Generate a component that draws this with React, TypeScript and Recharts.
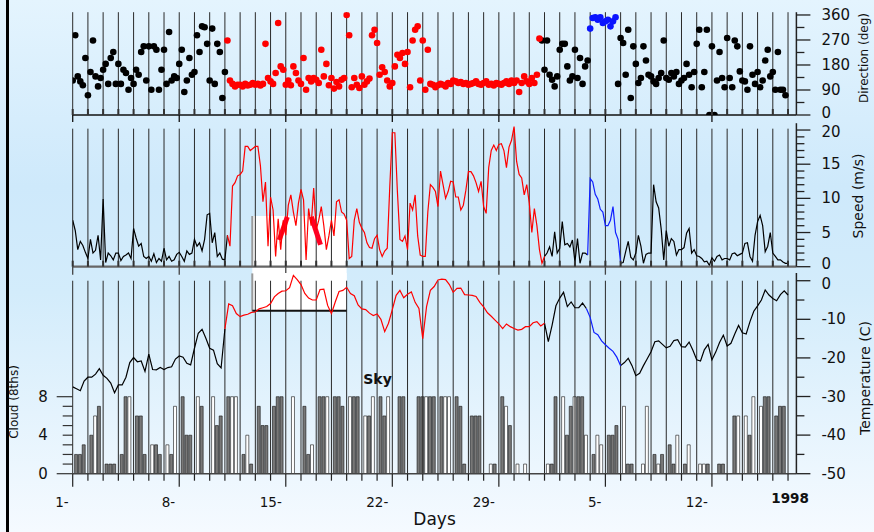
import React from 'react';
import {
  ScatterChart,
  Scatter,
  LineChart,
  Line,
  ComposedChart,
  Bar,
  Cell,
  XAxis,
  YAxis,
  ReferenceLine,
  ReferenceArea,
  ReferenceDot,
} from 'recharts';

// day index: 0 = 1 Jan 1998
const dayTicks = [0, 7, 14, 21, 28, 35, 42];
const dayTickLabels = ['1-', '8-', '15-', '22-', '29-', '5-', '12-'];
const yearTick = 47;
const yearLabel = '1998';
const lastDay = 47;

const dirTicks = [0, 45, 90, 135, 180, 225, 270, 315, 360];
const speedTicks = [0, 1, 2, 3, 4, 5, 6, 7, 8, 9, 10, 11, 12, 13, 14, 15, 16, 17, 18, 19, 20];
const tempTicks = [-50, -45, -40, -35, -30, -25, -20, -15, -10, -5, 0];
const cloudTicks = [0, 1, 2, 3, 4, 5, 6, 7, 8];

// periods (in days) coming from the other two stations, drawn red / blue
const dirSpans = { red: [10.15, 30.8], blue: [34, 35.7] };
const speedSpans = { red: [10.3, 30.85], blue: [34, 35.85] };
const tempSpans = { red: [10.25, 30.75], blue: [34, 35.75] };

// wind direction, deg, 6 per day
const direction = [
  124, 287, 139, 121, 107, 205, 71, 155, 268, 139, 103, 133,
  163, 184, 112, 205, 227, 112, 184, 112, 163, 151, 91, 133,
  112, 163, 145, 227, 247, 124, 247, 91, 247, 235, 91, 163,
  235, 112, 299, 124, 139, 133, 184, 235, 83, 124, 205, 145,
  155, 287, 227, 319, 316, 256, 124, 311, 112, 256, 227, 61,
  155, 268, 124, 112, 103, 109, 109, 103, 112, 106, 109, 115,
  109, 112, 106, 112, 256, 133, 121, 112, 151, 331, 175, 163,
  109, 124, 107, 175, 151, 124, 112, 205, 91, 133, 121, 133,
  127, 115, 235, 139, 184, 107, 133, 95, 119, 103, 127, 133,
  360, 287, 100, 133, 109, 97, 139, 109, 121, 131, 287, 307,
  259, 145, 172, 155, 124, 103, 115, 175, 217, 205, 223, 184,
  227, 100, 268, 307, 319, 124, 268, 91, 235, 112, 109, 100,
  107, 112, 109, 103, 115, 112, 124, 121, 115, 119, 112, 115,
  109, 112, 115, 121, 112, 109, 115, 121, 109, 112, 106, 115,
  112, 109, 115, 121, 112, 124, 115, 124, 83, 115, 139, 121,
  112, 133, 115, 145, 275, 268, 163, 268, 145, 127, 103, 139,
  235, 256, 256, 175, 124, 139, 235, 133, 205, 112, 175, 196,
  311, 349, 352, 343, 352, 331, 337, 343, 319, 337, 352, 112,
  277, 259, 145, 307, 61, 247, 184, 115, 133, 247, 196, 145,
  139, 121, 112, 133, 151, 268, 133, 127, 151, 139, 155, 112,
  124, 133, 184, 145, 100, 155, 256, 307, 100, 155, 307, 0,
  247, 0, 124, 227, 133, 100, 277, 133, 100, 268, 247, 157,
  124, 121, 91, 247, 145, 112, 155, 100, 124, 196, 235, 139,
  155, 91, 227, 91, 91, 71,
];

// wind speed, m/s, 6 per day
const speed = [
  6.8, 5.3, 2.5, 3.7, 3.1, 2.1, 1.2, 4.0, 2.0, 2.4, 4.6, 1.0,
  9.9, 0.6, 2.0, 1.6, 1.0, 2.0, 2.0, 0.9, 1.5, 1.7, 2.0, 1.2,
  5.6, 4.2, 3.0, 3.4, 1.5, 1.2, 1.5, 0.8, 1.9, 0.6, 1.2, 0.8,
  2.7, 1.0, 1.5, 0.8, 1.0, 1.8, 2.1, 1.5, 0.8, 2.3, 1.8, 2.0,
  4.0, 3.0, 3.5, 2.3, 4.0, 7.6, 7.8, 3.5, 5.0, 1.5, 2.0, 1.1,
  1.0, 4.6, 3.0, 11.8, 12.3, 13.3, 13.5, 14.0, 17.6, 17.6, 17.0, 17.3,
  17.6, 17.6, 14.8, 9.5, 12.4, 3.0, 10.2, 8.3, 1.5, 7.0, 2.5, 6.8,
  4.6, 9.0, 10.5, 8.0, 6.0, 9.3, 11.3, 9.8, 1.0, 8.5, 6.0, 11.5,
  5.4, 6.8, 8.8, 6.0, 2.5, 4.5, 6.8, 4.5, 9.5, 9.8, 8.0, 7.7,
  6.8, 1.2, 1.5, 6.8, 8.5, 6.5, 5.6, 5.0, 3.5, 2.8, 2.7, 4.1,
  4.6, 2.5, 1.5, 2.3, 2.7, 11.7, 19.6, 19.6, 11.0, 4.0, 3.7, 4.5,
  2.5, 9.3, 8.3, 10.5, 4.5, 1.7, 1.5, 1.5, 8.0, 12.0, 11.6, 11.0,
  8.8, 14.0, 12.0, 10.0, 11.0, 12.5, 12.4, 10.2, 10.2, 8.3, 9.0, 11.2,
  13.9, 13.9, 13.3, 12.3, 11.0, 12.5, 8.8, 7.8, 14.5, 17.0, 17.8, 17.0,
  17.9, 18.0, 17.0, 14.5, 17.5, 18.5, 20.5, 15.4, 13.5, 13.0, 10.5, 12.0,
  9.3, 5.0, 8.5, 6.0, 2.5, 0.5, 1.5, 2.0, 2.9, 1.5, 5.1, 2.0,
  2.7, 6.6, 3.2, 3.4, 2.9, 3.9, 0.7, 4.1, 0.5, 2.0, 2.0, 1.7,
  12.9, 12.4, 10.6, 9.9, 8.4, 8.0, 6.0, 6.0, 6.8, 8.8, 5.0, 4.0,
  0.5, 0.6, 2.2, 3.7, 1.4, 1.0, 2.0, 4.6, 3.0, 0.5, 1.8, 2.0,
  2.0, 12.0, 9.5, 8.6, 5.5, 1.0, 5.3, 3.0, 4.1, 3.7, 1.7, 2.5,
  2.5, 2.8, 4.9, 5.6, 2.0, 2.5, 1.6, 1.5, 1.2, 0.7, 0.8, 0.2,
  1.3, 0.8, 1.5, 1.7, 1.0, 1.2, 1.2, 1.0, 1.9, 2.0, 1.6, 1.8,
  2.0, 3.4, 3.5, 1.5, 0.8, 4.6, 6.6, 7.5, 6.0, 2.2, 3.0, 5.0,
  2.0, 1.5, 1.0, 1.0, 0.7, 0.5, 0.5,
];

// air temperature, C, 4 per day
const temperature = [
  -27.5, -28.0, -28.5, -26.0, -25.0, -25.0, -24.2, -22.8, -24.5, -25.3, -26.5, -29.0,
  -27.0, -27.0, -25.0, -21.2, -19.9, -21.0, -20.8, -23.5, -19.0, -23.0, -23.1, -22.5,
  -23.0, -22.5, -22.3, -20.3, -19.5, -19.8, -21.4, -21.8, -17.5, -13.6, -12.6, -14.9,
  -17.5, -18.0, -21.5, -22.6, -12.5, -6.0, -6.5, -8.5, -9.3, -8.9, -8.7, -8.2,
  -8.1, -7.3, -7.0, -6.7, -5.9, -4.2, -3.3, -2.7, -2.6, -1.8, 1.4, 0.3,
  -1.0, -3.3, -4.5, -5.0, -5.0, -2.3, -2.2, -6.4, -8.5, -5.5, -2.8, -2.5,
  -1.7, -3.3, -3.9, -6.3, -7.3, -7.5, -8.4, -9.0, -8.6, -10.0, -13.2, -11.0,
  -7.5, -3.8, -2.5, -4.4, -3.5, -2.9, -5.6, -7.2, -15.0, -6.7, -2.5, -1.5,
  0.2, 0.4, 0.3, -1.0, -3.0, -2.0, -1.9, -3.6, -3.7, -3.8, -4.1, -5.6,
  -6.8, -8.3, -9.2, -10.2, -11.2, -12.4, -11.2, -11.9, -12.4, -12.8, -12.6, -11.9,
  -11.9, -10.9, -10.6, -11.7, -11.0, -15.8, -11.5, -6.5, -4.5, -3.0, -6.7, -5.5,
  -7.0, -7.0, -5.8, -7.2, -9.5, -13.4, -14.0, -15.6, -16.6, -17.5, -18.3, -19.8,
  -22.0, -21.2, -20.1, -22.0, -24.6, -24.0, -22.0, -20.2, -18.4, -15.8, -15.6, -16.5,
  -17.4, -17.0, -15.5, -15.3, -17.1, -17.2, -15.9, -18.0, -20.5, -20.8, -17.9, -16.5,
  -20.5, -18.5, -16.0, -14.1, -16.9, -16.2, -13.8, -11.6, -13.5, -13.8, -10.6, -7.9,
  -6.5, -5.0, -2.4, -3.7, -4.6, -5.2, -3.6, -2.6, -3.7,
];

// sky cover, eighths, 4 per day
const cloud = [
  0, 2, 2, 3, 0, 4, 6, 7, 0, 1, 1, 1, 0, 2, 8, 8, 0, 6, 6, 2, 0, 3, 3, 2,
  0, 3, 2, 7, 0, 8, 4, 4, 0, 8, 7, 0, 0, 8, 5, 6, 0, 8, 8, 8, 0, 2, 4, 1,
  0, 7, 5, 5, 0, 7, 8, 8, 0, 0, 8, 0, 0, 7, 2, 3, 0, 8, 8, 8, 0, 8, 8, 7,
  0, 8, 8, 8, 0, 6, 6, 8, 0, 8, 6, 8, 0, 0, 8, 8, 0, 0, 0, 8, 8, 8, 8, 8,
  0, 8, 8, 8, 0, 8, 7, 1, 0, 6, 6, 6, 0, 0, 1, 1, 0, 8, 7, 5, 0, 1, 0, 1,
  0, 0, 0, 0, 0, 1, 1, 8, 0, 8, 4, 7, 8, 8, 8, 4, 0, 2, 4, 3, 0, 4, 4, 5,
  0, 7, 1, 1, 0, 0, 1, 7, 0, 2, 1, 2, 0, 3, 1, 4, 0, 1, 3, 0, 0, 1, 1, 1,
  0, 0, 1, 1, 0, 0, 6, 6, 0, 6, 4, 8, 0, 7, 8, 8, 0, 6, 7, 7, 0,
];

// sky readings that were estimated (open bars)
const openCloud = [
  6, 15, 21, 25, 27, 33, 37, 42, 43, 46, 58, 63, 67, 73, 77, 79, 83, 93, 98, 99,
  110, 114, 117, 119, 125, 129, 132, 135, 138, 139, 145, 150, 151, 154, 159, 162,
  165, 166, 175, 177, 179, 181,
];

const FONT = "'DejaVu Sans', Verdana, sans-serif";
const allDays = Array.from({ length: lastDay + 1 }, (_, i) => i);
const xDomain = [0, 47.55];

const inside = (t: number, s: number[]) => t >= s[0] - 1e-6 && t <= s[1] + 1e-6;

function splitRows(values: number[], perDay: number, spans: { red: number[]; blue: number[] }) {
  const step = 1 / perDay;
  const near = (t: number, s: number[]) => inside(t, s) || inside(t - step, s) || inside(t + step, s);
  return values.map((v, i) => {
    const t = i * step;
    return {
      t,
      black: inside(t, spans.red) || inside(t, spans.blue) ? null : v,
      red: near(t, spans.red) ? v : null,
      blue: near(t, spans.blue) ? v : null,
    };
  });
}

const dirPoints = direction.map((v, i) => ({ t: i / 6, dir: v }));
const dirBlack = dirPoints.filter((p) => !inside(p.t, dirSpans.red) && !inside(p.t, dirSpans.blue));
const dirRed = dirPoints.filter((p) => inside(p.t, dirSpans.red));
const dirBlue = dirPoints.filter((p) => inside(p.t, dirSpans.blue));

const speedRows = splitRows(speed, 6, speedSpans);
const openSet = new Set(openCloud);
const tempRows = splitRows(temperature, 4, tempSpans).map((r, i) => ({ ...r, cloud: cloud[i] }));

const dot = (color: string) => (p: any) => <circle cx={p.cx} cy={p.cy} r={3.3} fill={color} />;

// lowest / highest labels are nudged apart where two panels meet
const rightTick = (every: number, lowNudge: number, highNudge: number, low: number, high: number) => (p: any) => {
  const { x, y, payload } = p;
  const v = payload.value;
  const major = v % every === 0;
  const dy = v === low ? lowNudge : v === high ? highNudge : 0;
  return (
    <g>
      <line x1={x} x2={x + (major ? 14 : 8)} y1={y} y2={y} stroke="#222" strokeWidth={1.3} />
      {major && (
        <text x={x + 25} y={y + dy} dominantBaseline="central" fontSize={15} fontFamily={FONT} fill="#111">
          {v}
        </text>
      )}
    </g>
  );
};

const leftTick = (p: any) => {
  const { x, y, payload } = p;
  const v = payload.value;
  const long = v === 0 || v === 8;
  return (
    <g>
      <line x1={x - (long ? 16 : 10)} x2={x} y1={y} y2={y} stroke="#333" strokeWidth={1.2} />
      {v % 4 === 0 && (
        <text x={x - 25} y={y} dominantBaseline="central" textAnchor="end" fontSize={15} fontFamily={FONT} fill="#111">
          {v}
        </text>
      )}
    </g>
  );
};

const stubTick = (down: number, color: string) => (p: any) => {
  const { x, y, payload } = p;
  const major = payload.value % 7 === 0;
  return (
    <g>
      <line x1={x} x2={x} y1={y - 6} y2={y} stroke="#333" strokeWidth={2} />
      {major && <line x1={x} x2={x} y1={y} y2={y + down} stroke={color} strokeWidth={1.3} />}
    </g>
  );
};

const bottomTick = (p: any) => {
  const { x, y, payload } = p;
  const v = payload.value;
  const k = dayTicks.indexOf(v);
  return (
    <g>
      <line x1={x} x2={x} y1={y} y2={y + (k >= 0 ? 13 : 7)} stroke="#222" strokeWidth={1.2} />
      {k >= 0 && (
        <text x={x - 4} y={y + 33} textAnchor="end" fontSize={13.5} fontFamily={FONT} fill="#111">
          {dayTickLabels[k]}
        </text>
      )}
      {v === yearTick && (
        <text x={x + 2} y={y + 29} textAnchor="middle" fontSize={13.5} fontWeight="bold" fontFamily={FONT} fill="#111">
          {yearLabel}
        </text>
      )}
    </g>
  );
};

const xCommon = {
  dataKey: 't',
  type: 'number' as const,
  domain: xDomain,
  ticks: allDays,
  interval: 0,
  allowDataOverflow: true,
  tickLine: false,
  tickSize: 0,
  tickMargin: 0,
};

const yRight = {
  orientation: 'right' as const,
  width: 77.6,
  interval: 0,
  tickLine: false,
  tickSize: 0,
  tickMargin: 0,
  allowDataOverflow: true,
  axisLine: { stroke: '#222', strokeWidth: 1.5 },
};

const title = (cx: number, cy: number, size: number): React.CSSProperties => ({
  position: 'absolute',
  left: cx,
  top: cy,
  transform: 'translate(-50%, -50%) rotate(-90deg)',
  whiteSpace: 'nowrap',
  fontSize: size,
  color: '#111',
});

export default function App() {
  return (
    <div
      style={{
        position: 'fixed',
        left: 0,
        top: 0,
        width: 874,
        height: 532,
        overflow: 'hidden',
        fontFamily: FONT,
        background: 'linear-gradient(to bottom, #e4f4fe 0%, #cee9fb 35%, #d3ecfb 55%, #f5faff 100%)',
      }}
    >
      <div style={{ position: 'absolute', left: 6, top: 0, width: 3, height: 532, background: '#000' }} />

      {/* wind direction */}
      <div style={{ position: 'absolute', left: 0, top: 0 }}>
        <ScatterChart width={874} height={125} margin={{ top: 12.2, right: 0, bottom: 0, left: 72.7 }}>
          <XAxis {...xCommon} height={10} axisLine={{ stroke: '#111', strokeWidth: 1.3 }} tick={stubTick(7, '#111')} />
          <YAxis
            {...yRight}
            dataKey="dir"
            type="number"
            domain={[0, 370]}
            ticks={dirTicks}
            tick={rightTick(90, -2, 0, 0, 360)}
          />
          {allDays.map((d) => (
            <ReferenceLine key={d} x={d} stroke="#2a2a2a" strokeWidth={1} />
          ))}
          <Scatter data={dirBlack} shape={dot('#000')} isAnimationActive={false} />
          <Scatter data={dirRed} shape={dot('#ff0000')} isAnimationActive={false} />
          <Scatter data={dirBlue} shape={dot('#0a14ff')} isAnimationActive={false} />
        </ScatterChart>
      </div>

      {/* wind speed */}
      <div style={{ position: 'absolute', left: 0, top: 118 }}>
        <LineChart width={874} height={164} data={speedRows} margin={{ top: 5.2, right: 0, bottom: 0, left: 72.7 }}>
          <XAxis {...xCommon} height={15.3} axisLine={{ stroke: '#666', strokeWidth: 2.2 }} tick={stubTick(8, '#444')} />
          <YAxis {...yRight} type="number" domain={[0, 21]} ticks={speedTicks} tick={rightTick(5, -3, 2, 0, 20)} />
          {allDays.map((d) => (
            <ReferenceLine
              key={d}
              segment={[
                { x: d, y: 0 },
                { x: d, y: 20.2 },
              ]}
              stroke="#2a2a2a"
              strokeWidth={1}
            />
          ))}
          <ReferenceArea x1={11.8} x2={18} y1={-2} y2={7.42} fill="#ffffff" fillOpacity={1} stroke="none" ifOverflow="visible" />
          <ReferenceLine
            segment={[
              { x: 11.8, y: 0 },
              { x: 11.8, y: 7.42 },
            ]}
            stroke="#9a9a9a"
            strokeWidth={2}
          />
          <ReferenceLine
            segment={[
              { x: 13.57, y: 3.9 },
              { x: 14.1, y: 7.3 },
            ]}
            stroke="#ff0022"
            strokeWidth={5}
          />
          <ReferenceLine
            segment={[
              { x: 15.68, y: 7.3 },
              { x: 16.28, y: 3.2 },
            ]}
            stroke="#ff0022"
            strokeWidth={5}
          />
          <Line dataKey="black" stroke="#000" strokeWidth={1.2} dot={false} isAnimationActive={false} />
          <Line dataKey="red" stroke="#ff0000" strokeWidth={1.2} dot={false} isAnimationActive={false} />
          <Line dataKey="blue" stroke="#1020ff" strokeWidth={1.2} dot={false} isAnimationActive={false} />
        </LineChart>
      </div>

      {/* temperature and sky cover */}
      <div style={{ position: 'absolute', left: 0, top: 265 }}>
        <ComposedChart width={874} height={267} data={tempRows} margin={{ top: 8, right: 0, bottom: 0, left: 0 }}>
          <XAxis
            {...xCommon}
            height={58.3}
            axisLine={{ stroke: '#444', strokeWidth: 1.5 }}
            tick={bottomTick}
            label={{ value: 'Days', position: 'insideBottom', offset: 7, fontSize: 17, fill: '#111', fontFamily: FONT }}
          />
          <YAxis
            yAxisId="cloud"
            orientation="left"
            width={72.7}
            type="number"
            domain={[0, 20.85]}
            ticks={cloudTicks}
            interval={0}
            tickLine={false}
            tickSize={0}
            tickMargin={0}
            axisLine={false}
            allowDataOverflow
            tick={leftTick}
          />
          <YAxis
            {...yRight}
            yAxisId="temp"
            type="number"
            domain={[-50, 2]}
            ticks={tempTicks}
            tick={rightTick(10, 0, 3, -50, 0)}
          />
          <ReferenceArea
            yAxisId="temp"
            x1={11.8}
            x2={18}
            y1={-7.77}
            y2={2}
            fill="#ffffff"
            fillOpacity={1}
            stroke="none"
            ifOverflow="visible"
          />
          {allDays.map((d) => (
            <ReferenceLine
              key={d}
              yAxisId="temp"
              segment={[
                { x: d, y: -50 },
                { x: d, y: 0 },
              ]}
              stroke="#2a2a2a"
              strokeWidth={1}
            />
          ))}
          <ReferenceLine
            yAxisId="temp"
            segment={[
              { x: 11.8, y: -7.77 },
              { x: 11.8, y: 1.9 },
            ]}
            stroke="#9a9a9a"
            strokeWidth={2}
          />
          <ReferenceLine
            yAxisId="temp"
            segment={[
              { x: 11.8, y: -7.77 },
              { x: 18, y: -7.77 },
            ]}
            stroke="#111"
            strokeWidth={2}
          />
          <Bar yAxisId="cloud" dataKey="cloud" barSize={3} stroke="#111" strokeWidth={0.6} isAnimationActive={false}>
            {cloud.map((_, i) => (
              <Cell key={i} fill={openSet.has(i) ? '#ffffff' : '#787878'} />
            ))}
          </Bar>
          <Line yAxisId="temp" dataKey="black" stroke="#000" strokeWidth={1.2} dot={false} isAnimationActive={false} />
          <Line yAxisId="temp" dataKey="red" stroke="#ff0000" strokeWidth={1.2} dot={false} isAnimationActive={false} />
          <Line yAxisId="temp" dataKey="blue" stroke="#1020ff" strokeWidth={1.2} dot={false} isAnimationActive={false} />
          <ReferenceDot
            yAxisId="temp"
            x={20.03}
            y={-26.8}
            r={0}
            shape={(p: any) => (
              <text x={p.cx} y={p.cy} textAnchor="middle" fontSize={14} fontWeight="bold" fontFamily={FONT} fill="#111">
                Sky
              </text>
            )}
          />
        </ComposedChart>
      </div>

      <div style={title(864, 58, 12)}>Direction (deg)</div>
      <div style={title(858, 196, 14)}>Speed (m/s)</div>
      <div style={title(865, 378, 14)}>Temperature (C)</div>
      <div style={title(14, 402, 12)}>Cloud (8ths)</div>
    </div>
  );
}
